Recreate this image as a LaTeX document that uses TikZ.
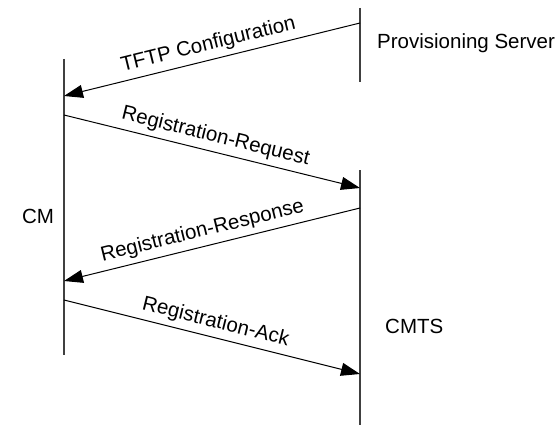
\documentclass[tikz,border=0pt]{standalone}
\usepackage{fontspec}
\setmainfont{Liberation Sans}
\usepackage{tikz}
\usetikzlibrary{arrows.meta}
\tikzset{every node/.style={font=\fontsize{20.5}{24}\selectfont}}
\colorlet{lifecol}{black!75!white}
\colorlet{msgcol}{black}
\tikzset{
  lifeline/.style={line width=1.3pt, lifecol},
  msg/.style={-{Triangle[length=19pt,width=13pt]}, line width=1pt, msgcol},
  msglabel/.style={midway, above, sloped, inner sep=5pt}
}

\begin{document}
\begin{tikzpicture}[x=1pt, y=-1pt]

  % Page frame.
  \useasboundingbox (0,0) rectangle (557,428);

  % Lifelines.
  \coordinate (cmtop) at (64,59);
  \coordinate (cmbot) at (64,355);
  \coordinate (provtop) at (360,8);
  \coordinate (provbot) at (360,82);
  \coordinate (cmtstop) at (360,170);
  \coordinate (cmtsbot) at (360,425);
  \draw[lifeline] (cmtop) -- (cmbot);
  \draw[lifeline] (provtop) -- (provbot);
  \draw[lifeline] (cmtstop) -- (cmtsbot);

  % Entity labels.
  \node[anchor=west, inner sep=0pt] (prov) at (377,43) {Provisioning Server};
  \node[inner sep=0pt] (cm) at (38,216) {CM};
  \node[anchor=west, inner sep=0pt] (cmts) at (385,326) {CMTS};

  % Message end points.
  \coordinate (tftps) at (360,23);
  \coordinate (tftpe) at (64,96);
  \coordinate (reqs) at (64,115);
  \coordinate (reqe) at (360,188);
  \coordinate (rsps) at (360,208);
  \coordinate (rspe) at (64,281);
  \coordinate (acks) at (64,300);
  \coordinate (acke) at (360,374);

  % Messages.
  \draw[msg] (tftps) -- (tftpe) node[msglabel] {TFTP Configuration};
  \draw[msg] (reqs) -- (reqe) node[msglabel] {Registration-Request};
  \draw[msg] (rsps) -- (rspe) node[msglabel, pos=0.52] {Registration-Response};
  \draw[msg] (acks) -- (acke) node[msglabel] {Registration-Ack};

\end{tikzpicture}
\end{document}
